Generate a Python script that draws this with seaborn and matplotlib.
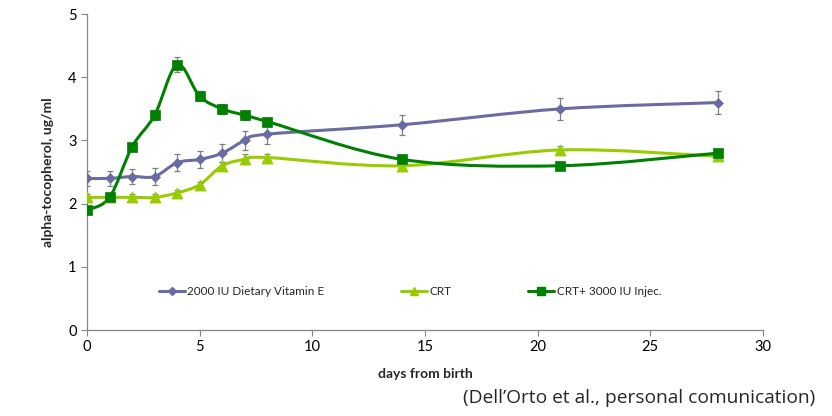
import numpy as np
import matplotlib
matplotlib.use("Agg")
import matplotlib.pyplot as plt
from matplotlib.path import Path
from matplotlib.patches import PathPatch
from matplotlib.lines import Line2D
import seaborn as sns

# days after birth
days = [0, 1, 2, 3, 4, 5, 6, 7, 8, 14, 21, 28]

# alpha-tocopherol (ug/ml) per treatment
vit_e = [2.40, 2.40, 2.43, 2.43, 2.65, 2.70, 2.80, 3.00, 3.10, 3.25, 3.50, 3.60]
vit_e_err = [0.12, 0.12, 0.12, 0.13, 0.13, 0.13, 0.14, 0.15, 0.15, 0.16, 0.18, 0.18]

crt = [2.10, 2.10, 2.10, 2.10, 2.17, 2.30, 2.60, 2.70, 2.73, 2.60, 2.85, 2.75]
crt_err = [0.05, 0.05, 0.05, 0.05, 0.05, 0.05, 0.06, 0.08, 0.06, 0.05, 0.07, 0.05]

inj = [1.90, 2.10, 2.90, 3.40, 4.20, 3.70, 3.50, 3.40, 3.30, 2.70, 2.60, 2.80]
inj_err = [0.05, 0.04, 0.05, 0.08, 0.12, 0.08, 0.08, 0.07, 0.06, 0.05, 0.04, 0.04]

labels = ["2000 IU Dietary Vitamin E", "CRT", "CRT+ 3000 IU Injec."]
colors = ["#6B6BA3", "#99CC00", "#008000"]
markers = ["D", "^", "s"]
msizes = [5, 8, 7.5]

sns.set_style("white")
plt.rcParams["font.family"] = ["Lato", "DejaVu Sans"]


def smooth_path(x, y):
    # Excel-like smoothed line: cubic bezier through every point
    x = np.asarray(x, float)
    y = np.asarray(y, float)
    verts = [(x[0], y[0])]
    codes = [Path.MOVETO]
    n = len(x)
    for i in range(n - 1):
        i0 = max(i - 1, 0)
        i3 = min(i + 2, n - 1)
        c1 = (x[i] + (x[i + 1] - x[i0]) / 6, y[i] + (y[i + 1] - y[i0]) / 6)
        c2 = (x[i + 1] - (x[i3] - x[i]) / 6, y[i + 1] - (y[i3] - y[i]) / 6)
        verts += [c1, c2, (x[i + 1], y[i + 1])]
        codes += [Path.CURVE4] * 3
    return Path(verts, codes)


fig, ax = plt.subplots(figsize=(8.32, 4.16), dpi=100)
fig.subplots_adjust(left=0.1046, right=0.917, bottom=0.2067, top=0.966)

series = [(vit_e, vit_e_err), (crt, crt_err), (inj, inj_err)]
for (vals, errs), lab, col, mk, ms in zip(series, labels, colors, markers, msizes):
    ax.add_patch(PathPatch(smooth_path(days, vals), facecolor="none",
                           edgecolor=col, lw=2.2, zorder=2))
    ax.errorbar(days, vals, yerr=errs, fmt="none", ecolor="#7F7F7F",
                elinewidth=0.9, capsize=2.5, capthick=0.9, zorder=3)
    sns.scatterplot(x=days, y=vals, ax=ax, marker=mk, s=ms ** 2, color=col,
                    edgecolor=col, linewidth=0.5, zorder=4, legend=False)

ax.set_xlim(0, 30)
ax.set_ylim(0, 5)
ax.set_xticks(range(0, 31, 5))
ax.set_yticks(range(0, 6))

sns.despine(ax=ax)
for side in ["left", "bottom"]:
    ax.spines[side].set_color("#868686")
    ax.spines[side].set_linewidth(0.9)
ax.tick_params(axis="both", which="major", direction="out", length=4,
               color="#868686", labelsize=10.5, labelcolor="#000000")
ax.tick_params(axis="both", bottom=True, left=True)

ax.set_xlabel("days from birth", fontsize=10, fontweight="bold", labelpad=10)
ax.set_ylabel("alpha-tocopherol, ug/ml", fontsize=10, fontweight="bold", labelpad=10)

handles = [Line2D([0], [0], color=c, lw=2.2, marker=m, markersize=s * 0.75)
           for c, m, s in zip(colors, markers, msizes)]
ax.legend(handles, labels, loc="center", bbox_to_anchor=(0.478, 0.123), ncol=3,
          frameon=False, fontsize=8.5, handlelength=2.2, handletextpad=0.2,
          columnspacing=6.5)

fig.text(0.98, 0.022, "(Dell\u2019Orto et al., personal comunication)",
         ha="right", va="bottom", fontsize=13.8, family=["Open Sans", "DejaVu Sans"])

fig.savefig("out.png", dpi=100)
